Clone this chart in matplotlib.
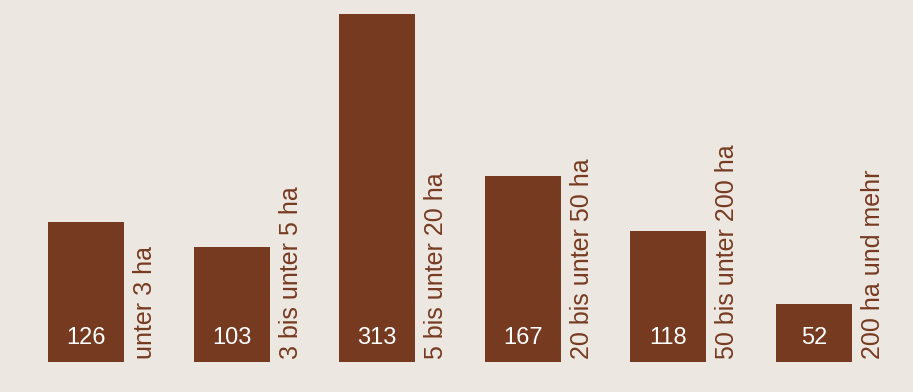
import matplotlib
matplotlib.use('Agg')
from matplotlib import pyplot as plt

# Betriebe nach Größenklassen
categories = ['unter 3 ha', '3 bis unter 5 ha', '5 bis unter 20 ha',
              '20 bis unter 50 ha', '50 bis unter 200 ha', '200 ha und mehr']
values = [126, 103, 313, 167, 118, 52]

brown = '#763a20'
bg = '#ede7e2'

plt.rcParams['font.family'] = ['Liberation Sans', 'DejaVu Sans']

fig = plt.figure(figsize=(9.13, 3.92), dpi=100)
fig.patch.set_facecolor(bg)
ax = fig.add_axes([0, 30 / 392, 1, 362 / 392])
ax.set_facecolor(bg)

x = list(range(len(values)))
ax.bar(x, values, width=0.522, color=brown)

for i, v in enumerate(values):
    ax.text(i, 22, str(v), color='white', fontsize=17, ha='center', va='center')
    ax.text(i + 0.405, 3, categories[i], color=brown, fontsize=18,
            rotation=90, ha='center', va='bottom')

ax.set_xlim(-86 / 145.6, (913 - 86) / 145.6)
ax.set_ylim(0, 362 / 1.112)
ax.axis('off')

fig.savefig('out.png', dpi=100, facecolor=bg)
